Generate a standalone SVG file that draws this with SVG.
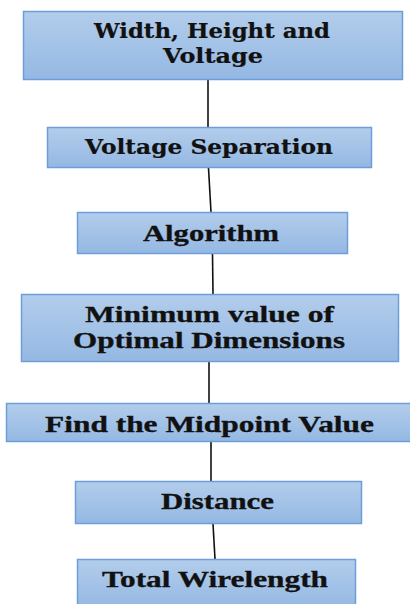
<svg xmlns="http://www.w3.org/2000/svg" width="410" height="604" viewBox="0 0 410 604">
  <defs>
    <linearGradient id="boxFill" x1="0" y1="0" x2="0" y2="1">
      <stop offset="0" stop-color="#b3cdeb"/>
      <stop offset="1" stop-color="#94b8e3"/>
    </linearGradient>
  </defs>
  <style>
    .box { fill: url(#boxFill); stroke: #6c9fd9; stroke-width: 1.5; }
    .lbl { font-family: "Liberation Serif", "Times New Roman", serif; font-weight: bold; font-size: 22.5px; fill: #111; stroke: #111; stroke-width: 0.3; }
    .cam { font-family: "DejaVu Serif", "Liberation Serif", serif; font-weight: bold; font-size: 20px; fill: #111; stroke: #111; stroke-width: 0.2; }
    .link { stroke: #111; stroke-width: 1.6; fill: none; }
  </style>
  <rect width="410" height="604" fill="#ffffff"/>

  <g id="connectors">
    <line class="link" x1="208" y1="80" x2="208" y2="127"/>
    <line class="link" x1="208.5" y1="168" x2="211" y2="212"/>
    <line class="link" x1="212.5" y1="254" x2="213" y2="294"/>
    <line class="link" x1="209" y1="362" x2="209" y2="403"/>
    <line class="link" x1="211" y1="442" x2="211" y2="481"/>
    <line class="link" x1="213" y1="524" x2="215" y2="559"/>
  </g>

  <g id="node-width-height-voltage">
    <rect class="box" x="23.5" y="11.5" width="379" height="68"/>
    <text class="cam" x="94" y="38" textLength="236" lengthAdjust="spacingAndGlyphs">Width, Height and</text>
    <text class="cam" x="163" y="63" textLength="100" lengthAdjust="spacingAndGlyphs">Voltage</text>
  </g>

  <g id="node-voltage-separation">
    <rect class="box" x="47.5" y="127.5" width="324" height="40"/>
    <text class="cam" x="85" y="154" textLength="248" lengthAdjust="spacingAndGlyphs">Voltage Separation</text>
  </g>

  <g id="node-algorithm">
    <rect class="box" x="77.5" y="212.5" width="270" height="41"/>
    <text class="lbl" x="143" y="241" textLength="136" lengthAdjust="spacingAndGlyphs">Algorithm</text>
  </g>

  <g id="node-minimum-value">
    <rect class="box" x="21.5" y="294.5" width="377" height="67"/>
    <text class="lbl" x="85" y="322" textLength="249" lengthAdjust="spacingAndGlyphs">Minimum value of</text>
    <text class="lbl" x="73" y="348" textLength="272" lengthAdjust="spacingAndGlyphs">Optimal Dimensions</text>
  </g>

  <g id="node-find-midpoint">
    <rect class="box" x="6.5" y="403.5" width="406" height="38"/>
    <text class="lbl" x="45" y="432" textLength="329" lengthAdjust="spacingAndGlyphs">Find the Midpoint Value</text>
  </g>

  <g id="node-distance">
    <rect class="box" x="75.5" y="481.5" width="286" height="42"/>
    <text class="lbl" x="161" y="509" textLength="113" lengthAdjust="spacingAndGlyphs">Distance</text>
  </g>

  <g id="node-total-wirelength">
    <rect class="box" x="77.5" y="559.5" width="278" height="50"/>
    <text class="lbl" x="102" y="587" textLength="226" lengthAdjust="spacingAndGlyphs">Total Wirelength</text>
  </g>
</svg>
